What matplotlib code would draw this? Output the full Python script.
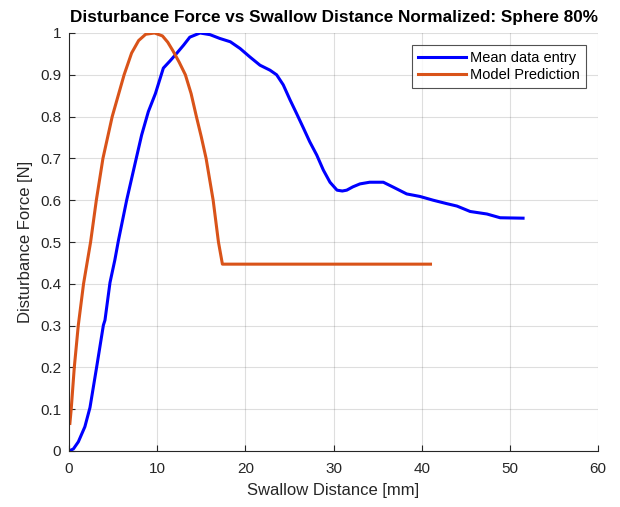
import matplotlib
matplotlib.use("Agg")
import matplotlib.pyplot as plt

# Mean data entry (blue)
mean_x = [0.0, 0.5, 1.06, 1.8, 2.38, 3.13, 3.9, 4.08, 4.65, 5.2, 5.6, 6.54, 7.67, 8.24, 9.0,
          9.8, 10.7, 11.45, 12.2, 13.0, 13.7, 14.86, 16.0, 17.1, 18.3, 19.4, 20.5, 21.66,
          22.8, 23.55, 24.3, 25.07, 25.8, 26.6, 27.3, 28.1, 28.85, 29.6, 30.4, 31.0, 31.5,
          32.2, 33.0, 34.1, 35.65, 36.8, 38.3, 39.8, 41.3, 42.8, 44.0, 45.5, 47.4, 48.9, 51.5]
mean_y = [0.0, 0.005, 0.022, 0.058, 0.104, 0.2, 0.301, 0.313, 0.403, 0.457, 0.503, 0.6, 0.704,
          0.756, 0.812, 0.855, 0.916, 0.933, 0.951, 0.971, 0.99, 1.0, 0.996, 0.987, 0.979, 0.963,
          0.943, 0.923, 0.911, 0.9, 0.876, 0.84, 0.808, 0.772, 0.74, 0.708, 0.672, 0.643, 0.624,
          0.622, 0.624, 0.632, 0.639, 0.643, 0.643, 0.631, 0.615, 0.609, 0.600, 0.592, 0.586,
          0.573, 0.567, 0.558, 0.557]

# Model Prediction (orange)
model_x = [0.1, 0.25, 0.6, 1.05, 1.65, 2.45, 3.1, 3.85, 4.9, 6.25, 7.1, 7.9, 8.7, 9.7,
           10.6, 11.2, 11.8, 12.5, 13.2, 13.85, 14.45, 15.0, 15.55, 16.35, 16.95, 17.4, 41.0]
model_y = [0.066, 0.1, 0.2, 0.3, 0.4, 0.5, 0.6, 0.7, 0.8, 0.9, 0.952, 0.982, 0.997, 1.0,
           0.993, 0.978, 0.957, 0.93, 0.9, 0.855, 0.8, 0.752, 0.7, 0.6, 0.5, 0.447, 0.447]

x_ticks = [0, 10, 20, 30, 40, 50, 60]
y_ticks = [0, 0.1, 0.2, 0.3, 0.4, 0.5, 0.6, 0.7, 0.8, 0.9, 1.0]
y_tick_labels = ["0", "0.1", "0.2", "0.3", "0.4", "0.5", "0.6", "0.7", "0.8", "0.9", "1"]

plt.rcParams['font.family'] = ['Liberation Sans', 'DejaVu Sans']

fig = plt.figure(figsize=(6.2, 5.07), dpi=100)
ax = fig.add_axes([69/620, 56/507, 529/620, 418/507])

axis_col = (0.15, 0.15, 0.15)
ax.plot(mean_x, mean_y, color=(0, 0, 1), lw=2.2, label="Mean data entry",
        solid_joinstyle='round')
ax.plot(model_x, model_y, color=(0.85, 0.325, 0.098), lw=2.2, label="Model Prediction",
        solid_joinstyle='round')

ax.set_xlim(0, 60)
ax.set_ylim(0, 1)
ax.set_xticks(x_ticks)
ax.set_yticks(y_ticks)
ax.set_yticklabels(y_tick_labels)
ax.grid(True, color=(0.15, 0.15, 0.15), alpha=0.15, lw=0.8)
ax.set_axisbelow(True)
for s in ['top', 'right']:
    ax.spines[s].set_visible(False)
for s in ['left', 'bottom']:
    ax.spines[s].set_color(axis_col)
    ax.spines[s].set_linewidth(0.8)
ax.tick_params(direction='in', colors=axis_col, labelsize=11, length=4, width=0.8)
ax.tick_params(axis='x', pad=8)
ax.tick_params(axis='y', pad=5.5)

ax.set_xlabel("Swallow Distance [mm]", fontsize=12, color=axis_col, labelpad=5)
ax.set_ylabel("Disturbance Force [N]", fontsize=12, color=axis_col, labelpad=5)
ax.set_title("Disturbance Force vs Swallow Distance Normalized: Sphere 80%",
             fontsize=12.3, fontweight='bold', color='black', pad=8)

leg = ax.legend(loc='upper right', fontsize=10.5, frameon=True, fancybox=False,
                edgecolor=axis_col, borderpad=0.4, handlelength=3.3, handletextpad=0.25,
                labelspacing=0.2, borderaxespad=0.85)
leg.get_frame().set_linewidth(0.8)

fig.savefig("out.png", dpi=100)
